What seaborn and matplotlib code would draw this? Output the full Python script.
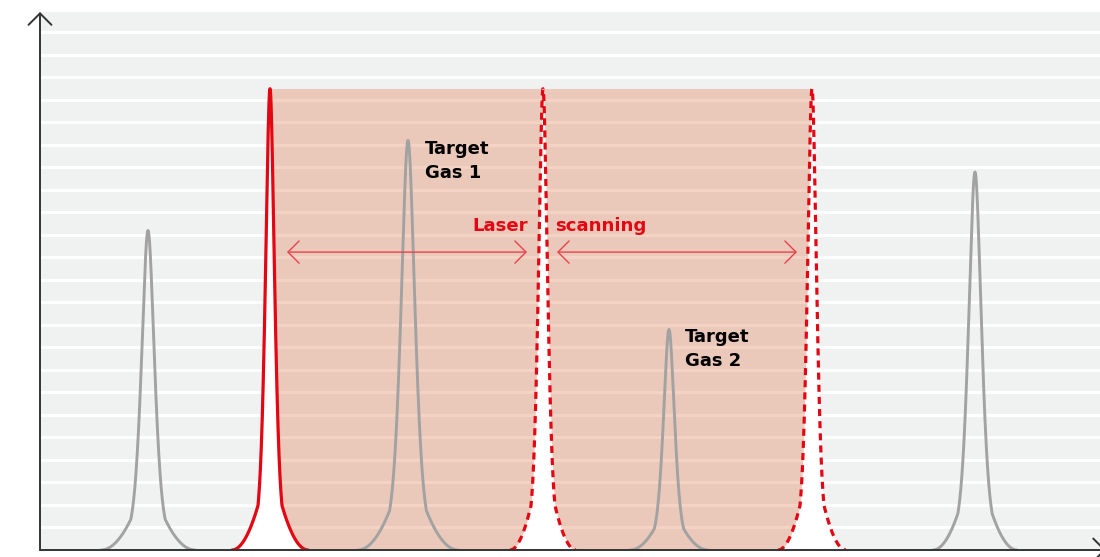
import numpy as np
import pandas as pd
import matplotlib
matplotlib.use("Agg")
import matplotlib.pyplot as plt
import seaborn as sns

# ---------------------------------------------
# Peak data (x in arbitrary wavelength units, y in grid steps)
# ---------------------------------------------
gas_centers = [108, 368, 629, 935]
gas_heights = [14.2, 18.2, 9.8, 16.8]
gas_widths = [7.0, 7.5, 6.0, 7.0]
gas_feet = [47, 50, 39, 42]

laser_centers = [230, 503, 772]
laser_heights = [20.5, 20.5, 20.5]
laser_widths = [4.9, 4.9, 4.9]
laser_feet = [38, 33, 34]

gas_labels = ["Target\nGas 1", "Target\nGas 2"]
scan_labels = ["Laser", "scanning"]

RED = "#E30613"
GREY = "#A2A2A2"


def peak_curve(c, h, w, foot, n=700):
    # pseudo-Voigt core with a rounded foot down to the baseline
    xs = np.linspace(c - foot, c + foot, n)
    d = np.abs(xs - c)
    k = 2.45
    core = 0.5 / (1 + (d / w) ** 2) + 0.5 * np.exp(-0.5 * (d / w) ** 2)
    yk = 0.5 / (1 + k ** 2) + 0.5 * np.exp(-0.5 * k ** 2)
    t = np.clip((foot - d) / (foot - k * w), 0, 1)
    return xs, h * np.where(d < k * w, core, yk * t ** 2)


gas = []
for i, (c, h, w, f) in enumerate(zip(gas_centers, gas_heights, gas_widths, gas_feet)):
    xs, ys = peak_curve(c, h, w, f)
    gas.append(pd.DataFrame({"x": xs, "y": ys, "line": f"gas{i}"}))
gas = pd.concat(gas, ignore_index=True)

sns.set_style("white", {"axes.facecolor": "#F0F1F1", "axes.edgecolor": "#333333"})
plt.rcParams["font.family"] = ["DejaVu Sans"]

fig = plt.figure(figsize=(11, 5.57), dpi=100)
ax = fig.add_axes([40 / 1100, 7 / 557, 1060 / 1100, 538 / 557])
ax.set_xlim(0, 1060)
ax.set_ylim(0, 23.91)

# white horizontal grid
ax.set_yticks(np.arange(1, 24))
ax.set_xticks([])
ax.yaxis.grid(True, color="white", lw=2.2)
ax.set_axisbelow(True)
ax.tick_params(left=False, labelleft=False)
for s in ax.spines.values():
    s.set_visible(False)

# laser scanning range
ax.fill_between([laser_centers[0], laser_centers[-1]], 0, laser_heights[0],
                color="#E37A4C", alpha=0.33, lw=0, zorder=1)

# laser lines
for i, (c, h, w, f) in enumerate(zip(laser_centers, laser_heights, laser_widths, laser_feet)):
    xs, ys = peak_curve(c, h, w, f)
    ax.fill_between(xs, 0, ys, color="white", lw=0, zorder=2)
    if i == 0:
        sns.lineplot(x=xs, y=ys, color=RED, lw=2.3, sort=False, estimator=None, ax=ax, zorder=4)
    else:
        ax.plot(xs, ys, color=RED, lw=2.3, linestyle=(0, (2.2, 1.6)), zorder=4)

# gas absorption lines
sns.lineplot(data=gas, x="x", y="y", units="line", estimator=None, sort=False,
             color=GREY, lw=2.1, ax=ax, zorder=3)

# scanning arrows
arrow_y = 13.24
for x0, x1 in [(247, 487), (517, 757)]:
    ax.annotate("", xy=(x1, arrow_y), xytext=(x0, arrow_y),
                arrowprops=dict(arrowstyle="<->,head_length=0.5,head_width=0.5",
                                color="#E8424E", lw=1.0, shrinkA=0, shrinkB=0,
                                mutation_scale=16), zorder=5)

ax.text(488, 14.4, scan_labels[0], color=RED, fontsize=13.1, fontweight="bold",
        ha="right", va="center", zorder=6)
ax.text(515, 14.4, scan_labels[1], color=RED, fontsize=13.1, fontweight="bold",
        ha="left", va="center", zorder=6)

ax.text(385, 18.21, gas_labels[0], color="black", fontsize=13, fontweight="bold",
        ha="left", va="top", linespacing=1.42, zorder=6)
ax.text(645, 9.86, gas_labels[1], color="black", fontsize=13, fontweight="bold",
        ha="left", va="top", linespacing=1.42, zorder=6)

# axes with arrow heads
axis_style = dict(arrowstyle="->,head_length=0.55,head_width=0.55", color="#333333",
                  lw=1.4, shrinkA=0, shrinkB=0, mutation_scale=15)
ax.annotate("", xy=(0, 1), xytext=(0, 0), xycoords="axes fraction",
            arrowprops=axis_style, annotation_clip=False, zorder=7)
ax.annotate("", xy=(1.0057, 0), xytext=(0, 0), xycoords="axes fraction",
            arrowprops=axis_style, annotation_clip=False, zorder=7)

ax.set_xlabel("")
ax.set_ylabel("Absorption", fontsize=15, fontweight="light", color="#444444",
              family=["Lato", "DejaVu Sans"])
ax.yaxis.set_label_coords(-0.016, 0.5)

fig.savefig("out.png", dpi=100)
